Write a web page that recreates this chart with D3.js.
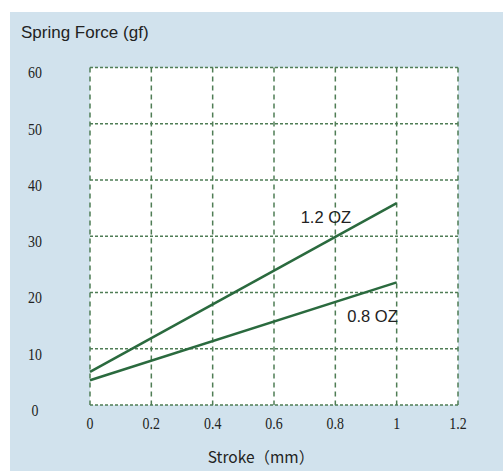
<!DOCTYPE html>
<html><head><meta charset="utf-8">
<script src="https://cdn.jsdelivr.net/npm/d3@7"></script>
<style>body{margin:0;background:#fff}svg{display:block}</style>
</head><body>
<svg id="c" width="503" height="471"></svg>
<script>
const xTicks = [0, 0.2, 0.4, 0.6, 0.8, 1, 1.2];
const xTickLabels = ["0", "0.2", "0.4", "0.6", "0.8", "1", "1.2"];
const yTicks = [0, 10, 20, 30, 40, 50, 60];
const stroke = [0, 1];
const force12 = [5.9, 35.9];
const force08 = [4.4, 21.8];
const seriesNames = ["1.2 OZ", "0.8 OZ"];

const svg = d3.select("#c");
svg.append("rect").attr("x", 10).attr("y", 12).attr("width", 493).attr("height", 459).attr("fill", "#d1e2ed");

const x = d3.scaleLinear().domain([0, 1.2]).range([90, 458]);
const y = d3.scaleLinear().domain([0, 60]).range([405, 67.5]);

svg.append("rect").attr("x", x(0)).attr("y", y(60)).attr("width", x(1.2) - x(0)).attr("height", y(0) - y(60)).attr("fill", "#fff");

const gridColor = "#4f7d55";
const g = svg.append("g");
g.selectAll(".hg").data(yTicks).join("line")
  .attr("x1", x(0)).attr("x2", x(1.2)).attr("y1", d => y(d)).attr("y2", d => y(d))
  .attr("stroke", gridColor).attr("stroke-width", 1.5).attr("stroke-dasharray", "3,2");
g.selectAll(".vg").data(xTicks).join("line")
  .attr("x1", d => x(d)).attr("x2", d => x(d)).attr("y1", y(60)).attr("y2", y(0))
  .attr("stroke", gridColor).attr("stroke-width", 1.5).attr("stroke-dasharray", "5,4");

const line = d3.line().x((d, i) => x(stroke[i])).y(d => y(d));
[force12, force08].forEach(s => {
  svg.append("path").attr("d", line(s)).attr("fill", "none").attr("stroke", "#2a6a3e").attr("stroke-width", 2.5);
});

const numFont = "'Liberation Serif', 'DejaVu Serif', serif";
svg.selectAll(".yl").data(yTicks).join("text")
  .attr("x", 35).attr("y", d => y(d) + 11).attr("text-anchor", "middle")
  .attr("font-family", numFont).attr("font-size", 17).attr("fill", "#222")
  .attr("transform", d => `translate(35,${y(d)+11}) scale(0.82,1) translate(-35,${-(y(d)+11)})`)
  .text(d => d);
svg.selectAll(".xl").data(xTicks).join("text")
  .attr("x", d => x(d)).attr("y", 429).attr("text-anchor", "middle")
  .attr("font-family", numFont).attr("font-size", 17).attr("fill", "#222")
  .attr("transform", d => `translate(${x(d)},429) scale(0.82,1) translate(${-x(d)},-429)`)
  .text((d, i) => xTickLabels[i]);

const sans = "'Liberation Sans', Arial, sans-serif";
svg.append("text").attr("x", 21).attr("y", 38).attr("font-family", sans).attr("font-size", 17).attr("fill", "#222").text("Spring Force (gf)");
svg.append("text").attr("x", 261).attr("y", 463).attr("text-anchor", "middle").attr("font-family", "'Noto Sans CJK SC', sans-serif").attr("font-size", 15.5).attr("fill", "#222").text("Stroke（mm）");

svg.append("text").attr("x", x(0.687)).attr("y", 223).attr("font-family", sans).attr("font-size", 16.5).attr("fill", "#222").text(seriesNames[0]);
svg.append("text").attr("x", x(0.839)).attr("y", 322).attr("font-family", sans).attr("font-size", 16.5).attr("fill", "#222").text(seriesNames[1]);
</script>
</body></html>
